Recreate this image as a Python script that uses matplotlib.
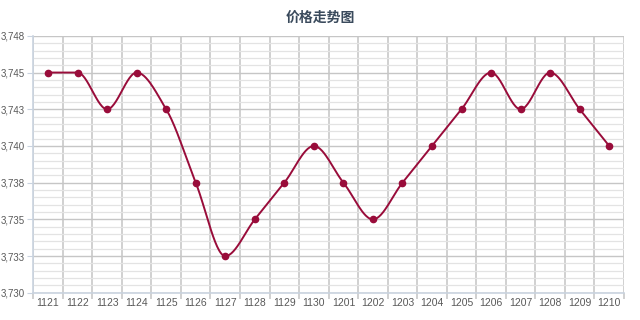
import numpy as np
import matplotlib
matplotlib.use("Agg")
import matplotlib.pyplot as plt
from matplotlib.ticker import MultipleLocator, FuncFormatter

plt.rcParams['font.family'] = ['Noto Sans CJK SC', 'DejaVu Sans']

dates = ['1121', '1122', '1123', '1124', '1125', '1126', '1127', '1128', '1129', '1130',
         '1201', '1202', '1203', '1204', '1205', '1206', '1207', '1208', '1209', '1210']
prices = [3745, 3745, 3742.5, 3745, 3742.5, 3737.5, 3732.5, 3735, 3737.5, 3740,
          3737.5, 3735, 3737.5, 3740, 3742.5, 3745, 3742.5, 3745, 3742.5, 3740]

line_color = '#990c3a'


def smooth(x, y, steps=30):
    # monotone cubic (Fritsch-Carlson), flat at peaks and valleys
    x = np.asarray(x, float)
    y = np.asarray(y, float)
    h = np.diff(x)
    d = np.diff(y) / h
    m = np.zeros_like(y)
    m[0], m[-1] = d[0], d[-1]
    for i in range(1, len(y) - 1):
        if d[i - 1] * d[i] > 0:
            m[i] = 2 / (1 / d[i - 1] + 1 / d[i])
    xs, ys = [], []
    t = np.linspace(0, 1, steps)
    for i in range(len(x) - 1):
        h00 = 2 * t**3 - 3 * t**2 + 1
        h10 = t**3 - 2 * t**2 + t
        h01 = -2 * t**3 + 3 * t**2
        h11 = t**3 - t**2
        xs.extend(x[i] + t * h[i])
        ys.extend(h00 * y[i] + h10 * h[i] * m[i] + h01 * y[i + 1] + h11 * h[i] * m[i + 1])
    return xs, ys


fig = plt.figure(figsize=(6.4, 3.2), dpi=100)
ax = fig.add_axes([0.052, 0.085, 0.923, 0.803])

xi = np.arange(len(dates))
sx, sy = smooth(xi, prices)
ax.plot(sx, sy, color=line_color, lw=1.4, zorder=3)
ax.plot(xi, prices, 'o', color=line_color, ms=4.5, zorder=4)

ax.set_xlim(-0.5, len(dates) - 0.5)
ax.set_ylim(3730, 3747.5)
ax.yaxis.set_major_locator(MultipleLocator(2.5))
ax.yaxis.set_minor_locator(MultipleLocator(0.5))
ax.yaxis.set_major_formatter(FuncFormatter(lambda v, p: f'{round(v + 0.001):,}'))
ax.set_xticks(xi)
ax.set_xticklabels(dates)
ax.set_xticks(np.arange(len(dates) + 1) - 0.5, minor=True)

ax.grid(axis='y', which='major', color='#c6c6c6', lw=1.0, zorder=0)
ax.grid(axis='y', which='minor', color='#e3e3e3', lw=0.9, zorder=0)
ax.grid(axis='x', which='minor', color='#d0d0d0', lw=1.4, zorder=0)
ax.grid(axis='x', which='major', visible=False)

for s in ['top', 'right']:
    ax.spines[s].set_visible(False)
for s in ['left', 'bottom']:
    ax.spines[s].set_color('#c9d3df')
    ax.spines[s].set_linewidth(1.2)

ax.tick_params(axis='y', which='major', length=4, color='#c9d3df', labelsize=7,
               labelcolor='#595959', pad=2)
ax.tick_params(axis='y', which='minor', length=0)
ax.tick_params(axis='x', which='major', length=0, labelsize=7.5, labelcolor='#595959', pad=4)
ax.tick_params(axis='x', which='minor', length=4, color='#d0d0d0', width=1.4)
for lab in ax.get_xticklabels() + ax.get_yticklabels():
    lab.set_family(['Liberation Sans Narrow', 'Liberation Sans'])

fig.text(0.5, 0.945, '价格走势图', ha='center', va='center', fontsize=10,
         fontweight='bold', color='#3a4a5c')

fig.savefig('out.png', dpi=100)
